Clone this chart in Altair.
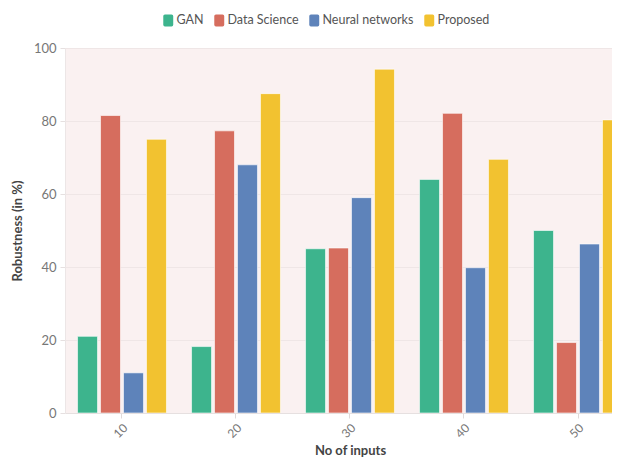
import altair as alt
import pandas as pd

inputs = ["10", "20", "30", "40", "50"]
series = ["GAN", "Data Science", "Neural networks", "Proposed"]
gan = [21, 18.2, 45, 64, 50]
data_science = [81.5, 77.3, 45.2, 82.1, 19.3]
neural_networks = [11, 68, 59, 39.8, 46.3]
proposed = [75, 87.5, 94.2, 69.5, 80.3]
colors = ["#3db48d", "#d66d5e", "#5e83ba", "#f2c230"]

values = [gan, data_science, neural_networks, proposed]
rows = []
for s, vals in zip(series, values):
    for i, v in zip(inputs, vals):
        rows.append({"inputs": i, "series": s, "value": v})
df = pd.DataFrame(rows)

FONT = "Lato"
rrect = ("M-0.55,-1 L0.55,-1 Q0.83,-1 0.83,-0.72 L0.83,0.72 Q0.83,1 0.55,1 "
         "L-0.55,1 Q-0.83,1 -0.83,0.72 L-0.83,-0.72 Q-0.83,-1 -0.55,-1 Z")

chart = alt.Chart(df).mark_bar(
    clip=True, stroke="white", strokeWidth=1, strokeOpacity=0.6
).encode(
    x=alt.X("inputs:N", sort=inputs,
            scale=alt.Scale(range=[0, 570], paddingInner=0.22, paddingOuter=0.11),
            axis=alt.Axis(title="No of inputs", labelAngle=-45, labelFont=FONT,
                          labelFontSize=12, labelColor="#777777", titleFont=FONT,
                          titleFontSize=13, titleFontWeight="bold", titleColor="#444444",
                          titlePadding=5, domainColor="#e6e0e0", tickColor="#e0dada",
                          tickSize=5, labelPadding=4)),
    xOffset=alt.XOffset("series:N", sort=series,
                        scale=alt.Scale(paddingInner=0.13, paddingOuter=0)),
    y=alt.Y("value:Q", scale=alt.Scale(domain=[0, 100]),
            axis=alt.Axis(title="Robustness (in %)", values=[0, 20, 40, 60, 80, 100],
                          labelFont=FONT, labelFontSize=13, labelColor="#777777",
                          titleFont=FONT, titleFontSize=13, titleFontWeight="bold",
                          titleColor="#444444", titlePadding=9, gridColor="#efe6e6",
                          domainColor="#ece6e6", tickColor="#e6e0e0", tickSize=5,
                          labelPadding=4)),
    color=alt.Color("series:N", sort=series,
                    scale=alt.Scale(domain=series, range=colors),
                    legend=alt.Legend(title=None, orient="none", legendX=97, legendY=-34,
                                      direction="horizontal", symbolType=rrect,
                                      symbolSize=144, symbolStrokeWidth=0,
                                      labelFont=FONT, labelFontSize=12.5,
                                      labelColor="#555555", columnPadding=9,
                                      labelOffset=2, symbolOpacity=1)),
).properties(
    width=547, height=365,
    autosize=alt.AutoSizeParams(type="none"),
    padding={"left": 57, "top": 40, "right": 0, "bottom": 46},
).configure_view(fill="#faf1f1", stroke=None)

chart.save("out.html", embed_options={"renderer": "svg", "actions": False})
